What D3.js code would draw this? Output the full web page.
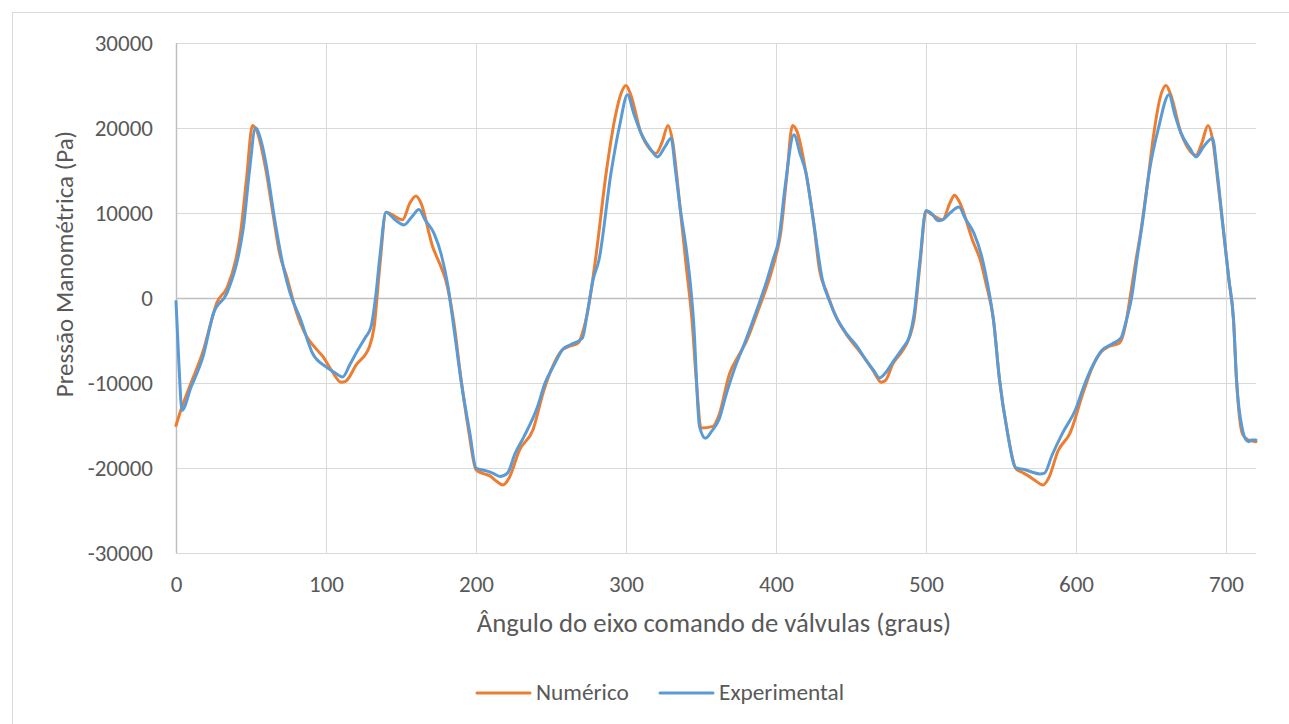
<!DOCTYPE html>
<html>
<head>
<meta charset="utf-8">
<script src="https://cdn.jsdelivr.net/npm/d3@7"></script>
<style>
  body { margin: 0; background: #fff; }
  svg { display: block; }
  .axisText { fill: #595959; font-family: Carlito, Lato, "Open Sans", sans-serif; font-size: 23px; }
</style>
</head>
<body>
<div id="chart"></div>
<script>
// angle (graus) vs pressure (Pa)
var numerico = [
  [0,-15000],[4,-12800],[10,-10000],[18,-6300],[25,-1800],[27,-650],[34,1200],[40,4600],[43,7600],[47,14000],
  [51,20300],[54,19600],[60,15000],[65,9500],[69,5300],[74,2400],[80,-1500],[87,-4500],[93,-5900],[98,-6900],
  [104,-8600],[110,-9900],[113,-9800],[120,-7900],[129,-5700],[132,-3500],[136,4000],[140,10100],[143,9900],[151,9200],
  [156,11200],[160,12000],[163,11300],[171,6100],[177,3500],[180,2000],[185,-2600],[190,-9500],[195,-15500],[200,-20200],
  [204,-20600],[209,-20900],[214,-21600],[218,-22000],[222,-21200],[229,-17900],[238,-15500],[245,-11000],[251,-8100],[257,-6200],
  [262,-5700],[268,-5300],[272,-3500],[276,0],[280,5000],[287,15000],[293,21500],[297,24200],[300,25000],[303,24000],
  [310,19400],[316,17500],[320,17000],[324,18300],[328,20300],[331,18500],[336,10700],[340,4000],[344,-2600],[347,-10000],
  [350,-15300],[358,-15100],[362,-13800],[369,-8900],[375,-6800],[380,-5200],[388,-1500],[396,2500],[400,5000],[403,7500],
  [407,14000],[411,20300],[414,19600],[420,14700],[425,9000],[429,3300],[434,600],[440,-2200],[447,-4300],[454,-5900],
  [460,-7300],[465,-8600],[470,-9900],[473,-9700],[478,-7700],[484,-6300],[489,-4600],[492,-2600],[496,4000],[500,10200],
  [504,9800],[511,9200],[516,11200],[519,12100],[522,11400],[531,6800],[537,4000],[540,1700],[545,-2600],[549,-9600],
  [554,-15500],[560,-20100],[564,-20500],[568,-20900],[573,-21500],[578,-22000],[582,-21100],[588,-18000],[596,-15900],[605,-11000],
  [611,-8100],[617,-6300],[622,-5700],[629,-5300],[633,-3200],[636,0],[640,4500],[643,7600],[648,14000],[652,19500],
  [656,23500],[660,25000],[663,24000],[670,19400],[676,17300],[680,16800],[684,18300],[688,20300],[691,18700],[695,13000],
  [698,8400],[702,2000],[705,-2600],[707,-9600],[711,-16000],[714,-16600],[717,-16800],[720,-16900]
];

var experimental = [
  [0,-400],[2,-8000],[4,-13200],[10,-10500],[18,-6900],[25,-1800],[34,600],[42,5300],[45,8400],[49,15000],
  [53,20000],[57,18300],[60,15800],[66,9000],[72,3300],[76,600],[83,-2500],[91,-6500],[100,-8100],[106,-8800],
  [111,-9300],[116,-7800],[120,-6500],[126,-4700],[130,-3400],[133,0],[136,5000],[140,10100],[146,9200],[152,8600],
  [157,9500],[162,10400],[166,9200],[172,7600],[177,5000],[181,1700],[186,-4500],[190,-9700],[196,-16000],[200,-20000],
  [206,-20300],[211,-20600],[216,-21000],[221,-20600],[226,-18300],[232,-16300],[241,-12800],[246,-10000],[252,-7900],[258,-6000],
  [263,-5500],[271,-4700],[274,-2000],[278,2100],[282,4500],[290,14700],[296,20500],[301,23900],[305,21800],[310,19400],
  [316,17600],[321,16600],[326,17800],[330,18800],[333,15000],[336,10700],[340,6000],[343,1500],[345,-2600],[349,-15100],
  [353,-16500],[357,-15700],[362,-14300],[367,-11200],[372,-8500],[380,-4900],[387,-1500],[394,2100],[398,4500],[402,7000],
  [406,13000],[412,19200],[416,17000],[420,14700],[425,9000],[431,2100],[436,-500],[440,-2200],[447,-4200],[454,-5700],
  [460,-7300],[465,-8500],[469,-9400],[473,-8800],[478,-7500],[484,-6000],[489,-4500],[492,-2000],[496,4500],[500,10300],
  [504,9900],[508,9100],[511,9200],[516,10000],[522,10700],[526,9400],[532,7600],[537,5000],[541,1700],[545,-2600],
  [549,-9600],[554,-15500],[560,-20000],[566,-20200],[571,-20500],[576,-20700],[579,-20600],[584,-18500],[591,-15900],[600,-13000],
  [605,-10500],[611,-8000],[617,-6200],[624,-5400],[630,-4700],[633,-3000],[637,0],[641,5000],[644,8500],[649,15000],
  [655,20000],[662,23900],[666,21500],[670,19400],[676,17600],[680,16600],[685,17800],[691,18800],[694,15000],[698,8400],
  [702,2100],[705,-2500],[707,-9600],[711,-15500],[713,-16600],[715,-16900],[717,-16700],[720,-16700]
];

var xTicks = [0, 100, 200, 300, 400, 500, 600, 700];
var yTicks = [-30000, -20000, -10000, 0, 10000, 20000, 30000];
var seriesNames = ["Numérico", "Experimental"];
var seriesColors = ["#ED7D31", "#5B9BD5"];

var svgWidth = 1289;
var svgHeight = 724;

var chartMargin = {
    top: 43,
    right: 33,
    left: 176,
    bottom: 171};

var chartWidth = svgWidth - chartMargin.left - chartMargin.right;
var chartHeight = svgHeight - chartMargin.top - chartMargin.bottom;

var svg = d3.select("#chart")
    .append("svg")
    .attr("width", svgWidth)
    .attr("height", svgHeight);

// chart area border (only top and left fall inside the picture)
svg.append("rect")
    .attr("x", 12.5)
    .attr("y", 12.5)
    .attr("width", 1300)
    .attr("height", 800)
    .attr("fill", "none")
    .attr("stroke", "#D9D9D9");

var chartGroup = svg.append("g")
    .attr("transform", `translate(${chartMargin.left}, ${chartMargin.top})`);

var xLinearScale = d3.scaleLinear()
    .domain([0, 720])
    .range([0, chartWidth]);

var yLinearScale = d3.scaleLinear()
    .domain([-30000, 30000])
    .range([chartHeight, 0]);

// gridlines
chartGroup.append("g")
    .selectAll("line")
    .data(yTicks)
    .enter()
    .append("line")
    .attr("x1", 0)
    .attr("x2", chartWidth)
    .attr("y1", d => Math.round(yLinearScale(d)) + 0.5)
    .attr("y2", d => Math.round(yLinearScale(d)) + 0.5)
    .attr("stroke", d => d === 0 ? "#BFBFBF" : "#D9D9D9")
    .attr("stroke-width", d => d === 0 ? 1.5 : 1);

chartGroup.append("g")
    .selectAll("line")
    .data(xTicks)
    .enter()
    .append("line")
    .attr("x1", d => Math.round(xLinearScale(d)) + 0.5)
    .attr("x2", d => Math.round(xLinearScale(d)) + 0.5)
    .attr("y1", 0)
    .attr("y2", chartHeight)
    .attr("stroke", d => d === 0 ? "#BFBFBF" : "#D9D9D9")
    .attr("stroke-width", d => d === 0 ? 1.5 : 1);

// axes (labels only)
var bottomAxis = d3.axisBottom(xLinearScale).tickValues(xTicks).tickSize(0).tickPadding(23);
var leftAxis = d3.axisLeft(yLinearScale).tickValues(yTicks).tickSize(0).tickPadding(23);

var xAxis = chartGroup.append("g")
    .attr("transform", `translate(0, ${chartHeight})`)
    .call(bottomAxis);

var yAxis = chartGroup.append("g")
    .call(leftAxis);

[xAxis, yAxis].forEach(function(ax) {
    ax.attr("font-family", null).attr("font-size", null);
    ax.select(".domain").remove();
    ax.selectAll("text")
        .attr("class", "axisText")
        .text(d => String(d));
});

// lines
var line = d3.line()
    .x(d => xLinearScale(d[0]))
    .y(d => yLinearScale(d[1]))
    .curve(d3.curveMonotoneX);

[numerico, experimental].forEach(function(series, i) {
    chartGroup.append("path")
        .datum(series)
        .attr("d", line)
        .attr("fill", "none")
        .attr("stroke", seriesColors[i])
        .attr("stroke-width", 3)
        .attr("stroke-linejoin", "round")
        .attr("stroke-linecap", "round");
});

// axis titles
svg.append("text")
    .attr("class", "axisText")
    .attr("x", 714)
    .attr("y", 632)
    .attr("text-anchor", "middle")
    .style("font-size", "26.7px")
    .text("Ângulo do eixo comando de válvulas (graus)");

svg.append("text")
    .attr("class", "axisText")
    .attr("transform", "translate(73, 264) rotate(-90)")
    .attr("text-anchor", "middle")
    .style("font-size", "25px")
    .text("Pressão Manométrica (Pa)");

// legend
var legendX = [477, 660];
var legend = svg.append("g");
seriesNames.forEach(function(name, i) {
    legend.append("line")
        .attr("x1", legendX[i])
        .attr("x2", legendX[i] + 53)
        .attr("y1", 693)
        .attr("y2", 693)
        .attr("stroke", seriesColors[i])
        .attr("stroke-width", 3)
        .attr("stroke-linecap", "round");
    legend.append("text")
        .attr("class", "axisText")
        .attr("x", legendX[i] + 59)
        .attr("y", 700)
        .style("font-size", "23.3px")
        .text(name);
});
</script>
</body>
</html>
